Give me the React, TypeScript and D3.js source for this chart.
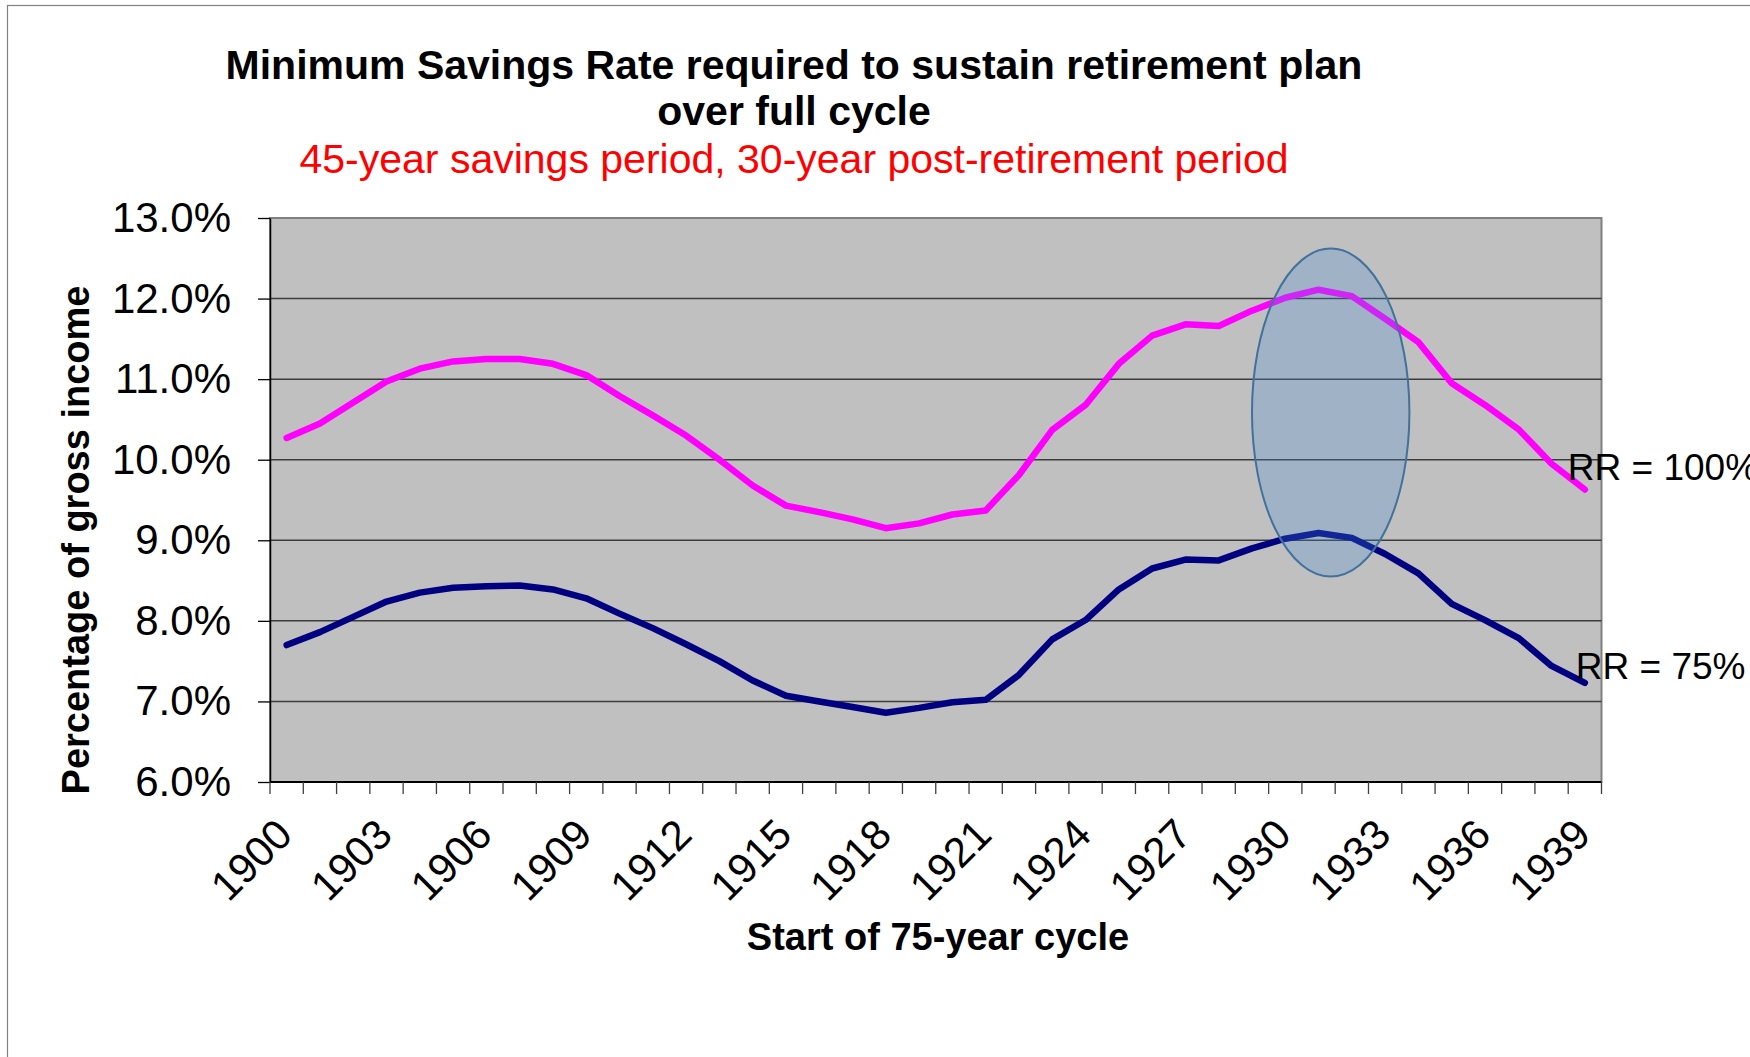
import React, { useEffect, useRef } from 'react'
import * as d3 from 'd3'

// start year of each 75-year cycle
const years = Array.from({ length: 40 }, (_, i) => String(1900 + i))

// minimum savings rate (% of gross income), replacement ratio 100%
const rr100 = [
  10.27, 10.45, 10.71, 10.97, 11.13, 11.22, 11.25, 11.25, 11.19, 11.05,
  10.79, 10.55, 10.30, 10.00, 9.68, 9.43, 9.35, 9.26, 9.15, 9.21,
  9.32, 9.37, 9.81, 10.37, 10.68, 11.19, 11.54, 11.68, 11.66, 11.85,
  12.01, 12.11, 12.03, 11.75, 11.46, 10.95, 10.68, 10.38, 9.95, 9.63,
]

// replacement ratio 75%
const rr75 = [
  7.70, 7.86, 8.05, 8.24, 8.35, 8.41, 8.43, 8.44, 8.39, 8.28,
  8.09, 7.91, 7.71, 7.50, 7.26, 7.07, 7.00, 6.93, 6.86, 6.92,
  6.99, 7.02, 7.33, 7.77, 8.01, 8.39, 8.65, 8.76, 8.75, 8.90,
  9.02, 9.09, 9.03, 8.83, 8.59, 8.21, 8.01, 7.79, 7.44, 7.23,
]

const yTicks = [6, 7, 8, 9, 10, 11, 12, 13]
const labelYears = ['1900', '1903', '1906', '1909', '1912', '1915', '1918', '1921', '1924', '1927', '1930', '1933', '1936', '1939']

// highlighted region (years / percent)
const highlightYears = [1929.0, 1933.73]
const highlightPct = [8.55, 12.62]

const FONT = '"Liberation Sans", Arial, sans-serif'

const App = () => {
  const ref = useRef(null)

  useEffect(() => {
    const width = 1750, height = 1057
    const plot = { left: 270, right: 1601.5, top: 218, bottom: 782 }

    const svg = d3.select(ref.current)
    svg.selectAll('*').remove()

    const xScale = d3.scaleBand().domain(years).range([plot.left, plot.right]).padding(0)
    const xc = (yr) => xScale(yr) + xScale.bandwidth() / 2
    const yScale = d3.scaleLinear().domain([6, 13]).range([plot.bottom, plot.top])
    const yearLin = d3.scaleLinear().domain([1900, 1939]).range([xc('1900'), xc('1939')])

    // chart border
    svg.append('rect')
      .attr('x', 7.5).attr('y', 5.5)
      .attr('width', width + 50).attr('height', height + 50)
      .attr('fill', '#fff').attr('stroke', '#808080').attr('stroke-width', 1.2)

    // titles
    const title = svg.append('g').attr('font-family', FONT).attr('text-anchor', 'middle')
    title.append('text').attr('x', 794).attr('y', 79)
      .attr('font-size', 41).attr('font-weight', 'bold')
      .text('Minimum Savings Rate required to sustain retirement plan')
    title.append('text').attr('x', 794).attr('y', 125)
      .attr('font-size', 41).attr('font-weight', 'bold')
      .text('over full cycle')
    title.append('text').attr('x', 794).attr('y', 173)
      .attr('font-size', 41).attr('fill', '#ff0000')
      .text('45-year savings period, 30-year post-retirement period')

    // plot area
    svg.append('rect')
      .attr('x', plot.left).attr('y', plot.top)
      .attr('width', plot.right - plot.left).attr('height', plot.bottom - plot.top)
      .attr('fill', '#c0c0c0').attr('stroke', '#808080').attr('stroke-width', 2)

    // gridlines
    svg.append('g').selectAll('line')
      .data(yTicks.filter(t => t > 6 && t < 13))
      .enter().append('line')
      .attr('x1', plot.left).attr('x2', plot.right)
      .attr('y1', d => yScale(d)).attr('y2', d => yScale(d))
      .attr('stroke', '#3c3c3c').attr('stroke-width', 1.5)

    // y axis
    const yAxis = svg.append('g')
      .attr('transform', `translate(${plot.left},0)`)
      .call(d3.axisLeft(yScale).tickValues(yTicks).tickSize(12).tickSizeOuter(0).tickPadding(27)
        .tickFormat(d => d.toFixed(1) + '%'))
    yAxis.select('.domain').attr('stroke', '#000').attr('stroke-width', 1.5)
    yAxis.selectAll('.tick line').attr('stroke', '#000').attr('stroke-width', 1.3)
    yAxis.selectAll('.tick text')
      .attr('font-family', FONT).attr('font-size', 42).attr('fill', '#000')

    // x axis
    svg.append('line')
      .attr('x1', plot.left).attr('x2', plot.right)
      .attr('y1', plot.bottom).attr('y2', plot.bottom)
      .attr('stroke', '#000').attr('stroke-width', 1.8)
    const bounds = years.map(y => xScale(y)).concat([plot.right])
    svg.append('g').selectAll('line')
      .data(bounds)
      .enter().append('line')
      .attr('x1', d => d).attr('x2', d => d)
      .attr('y1', plot.bottom).attr('y2', plot.bottom + 12)
      .attr('stroke', '#404040').attr('stroke-width', 1.3)

    svg.append('g').selectAll('text')
      .data(labelYears)
      .enter().append('text')
      .attr('transform', d => `translate(${xc(d) + 8},${plot.bottom + 55}) rotate(-45)`)
      .attr('text-anchor', 'end')
      .attr('font-family', FONT).attr('font-size', 42)
      .text(d => d)

    // axis titles
    svg.append('text')
      .attr('x', 938).attr('y', 950)
      .attr('text-anchor', 'middle')
      .attr('font-family', FONT).attr('font-size', 38).attr('font-weight', 'bold')
      .text('Start of 75-year cycle')
    svg.append('text')
      .attr('transform', 'translate(89,540) rotate(-90)')
      .attr('text-anchor', 'middle')
      .attr('font-family', FONT).attr('font-size', 38).attr('font-weight', 'bold')
      .text('Percentage of gross income')

    // lines
    const line = d3.line()
      .x((d, i) => xc(years[i]))
      .y(d => yScale(d))

    svg.append('path')
      .datum(rr100)
      .attr('d', line)
      .attr('fill', 'none').attr('stroke', '#ff00ff').attr('stroke-width', 6.5)
      .attr('stroke-linejoin', 'round').attr('stroke-linecap', 'round')

    svg.append('path')
      .datum(rr75)
      .attr('d', line)
      .attr('fill', 'none').attr('stroke', '#000080').attr('stroke-width', 6.5)
      .attr('stroke-linejoin', 'round').attr('stroke-linecap', 'round')

    // highlight ellipse
    const ex0 = yearLin(highlightYears[0]), ex1 = yearLin(highlightYears[1])
    const ey0 = yScale(highlightPct[1]), ey1 = yScale(highlightPct[0])
    svg.append('ellipse')
      .attr('cx', (ex0 + ex1) / 2).attr('cy', (ey0 + ey1) / 2)
      .attr('rx', (ex1 - ex0) / 2).attr('ry', (ey1 - ey0) / 2)
      .attr('fill', '#4490d8').attr('fill-opacity', 0.26)
      .attr('stroke', '#41719c').attr('stroke-width', 2)

    // series labels
    const last = years.length - 1
    svg.append('text')
      .attr('x', xc(years[last]) - 17).attr('y', yScale(rr100[last]) - 10)
      .attr('font-family', FONT).attr('font-size', 37)
      .text('RR = 100%')
    svg.append('text')
      .attr('x', xc(years[last]) - 9).attr('y', yScale(rr75[last]) - 3.5)
      .attr('font-family', FONT).attr('font-size', 37)
      .text('RR = 75%')
  }, [])

  return (
    <svg
      ref={ref}
      width={1750}
      height={1057}
      style={{ position: 'absolute', left: 0, top: 0, background: '#fff' }}
    />
  )
}

export default App
